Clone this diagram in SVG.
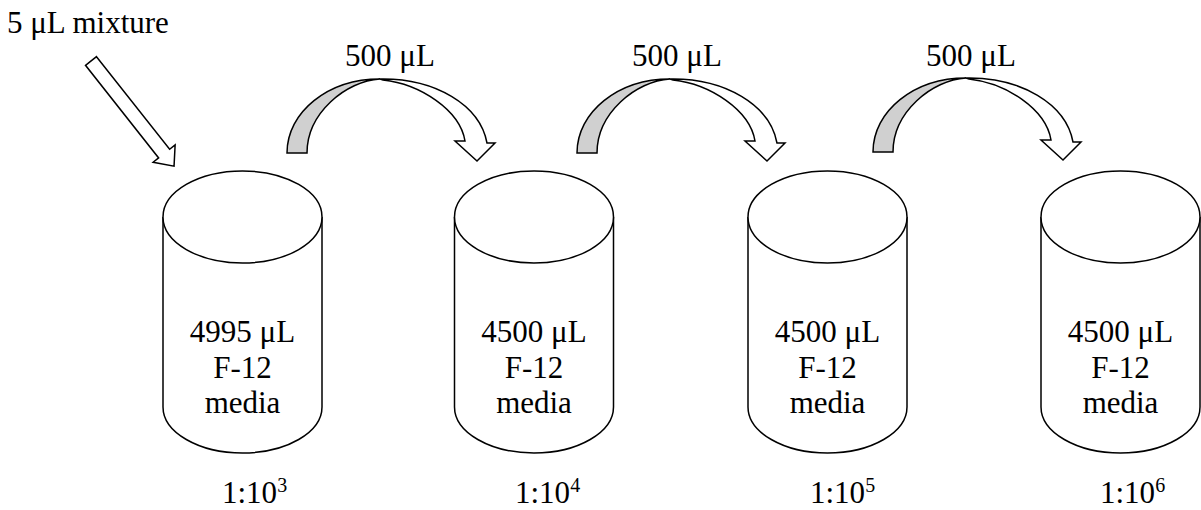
<svg xmlns="http://www.w3.org/2000/svg" width="1201" height="510" viewBox="0 0 1201 510">
<style>
text{font-family:'Liberation Serif','Times New Roman','DejaVu Serif',serif;font-size:31px;fill:#000}
.c{text-anchor:middle}
.ln{fill:#fff;stroke:#000;stroke-width:1.5}
.gr{fill:#d0d0d0;stroke:#000;stroke-width:1.5}
.sup{font-size:20px}
</style>
<defs>
<g id="cyl">
<path class="ln" d="M-79.5,0 L-79.5,190 A79.5,46 0 0 0 79.5,190 L79.5,0"/>
<ellipse class="ln" cx="0" cy="0" rx="79.5" ry="46"/>
</g>
<g id="curve">
<path class="gr" d="M287,153 C287,112 328,79 380,79 C346,81 307,113 307,153 Z"/>
<path class="ln" d="M380,79 C435,78 480,105 487,143 L495,143 L477,161 L455,141 L465,141 C460,110 420,84 383,80 Z"/>
</g>
</defs>
<g id="connectors">
<polygon class="ln" transform="translate(91,61) rotate(51.7)" points="0,-7 118,-7 118,-14 134,0 118,14 118,7 0,7"/>
<use href="#curve"/>
<use href="#curve" transform="translate(290,0)"/>
<use href="#curve" transform="translate(586,-1)"/>
</g>
<g font-family="Liberation Serif, Times New Roman, DejaVu Serif, serif" font-size="31">
<g id="labels">
<text x="7" y="33">5 μL mixture</text>
<text class="c" x="390" y="66">500 μL</text>
<text class="c" x="677" y="66">500 μL</text>
<text class="c" x="971" y="66">500 μL</text>
</g>
<g id="tube1">
<use href="#cyl" transform="translate(242.5,217)"/>
<text class="c" x="242.5" y="342">4995 μL</text>
<text class="c" x="242.5" y="378">F-12</text>
<text class="c" x="242.5" y="413">media</text>
<text x="222" y="503">1:10<tspan class="sup" dy="-11">3</tspan></text>
</g>
<g id="tube2">
<use href="#cyl" transform="translate(534,217)"/>
<text class="c" x="534" y="342">4500 μL</text>
<text class="c" x="534" y="378">F-12</text>
<text class="c" x="534" y="413">media</text>
<text x="515" y="503">1:10<tspan class="sup" dy="-11">4</tspan></text>
</g>
<g id="tube3">
<use href="#cyl" transform="translate(827.5,217)"/>
<text class="c" x="827.5" y="342">4500 μL</text>
<text class="c" x="827.5" y="378">F-12</text>
<text class="c" x="827.5" y="413">media</text>
<text x="810" y="503">1:10<tspan class="sup" dy="-11">5</tspan></text>
</g>
<g id="tube4">
<use href="#cyl" transform="translate(1120.5,217)"/>
<text class="c" x="1120.5" y="342">4500 μL</text>
<text class="c" x="1120.5" y="378">F-12</text>
<text class="c" x="1120.5" y="413">media</text>
<text x="1100" y="503">1:10<tspan class="sup" dy="-11">6</tspan></text>
</g>
</g>
</svg>
